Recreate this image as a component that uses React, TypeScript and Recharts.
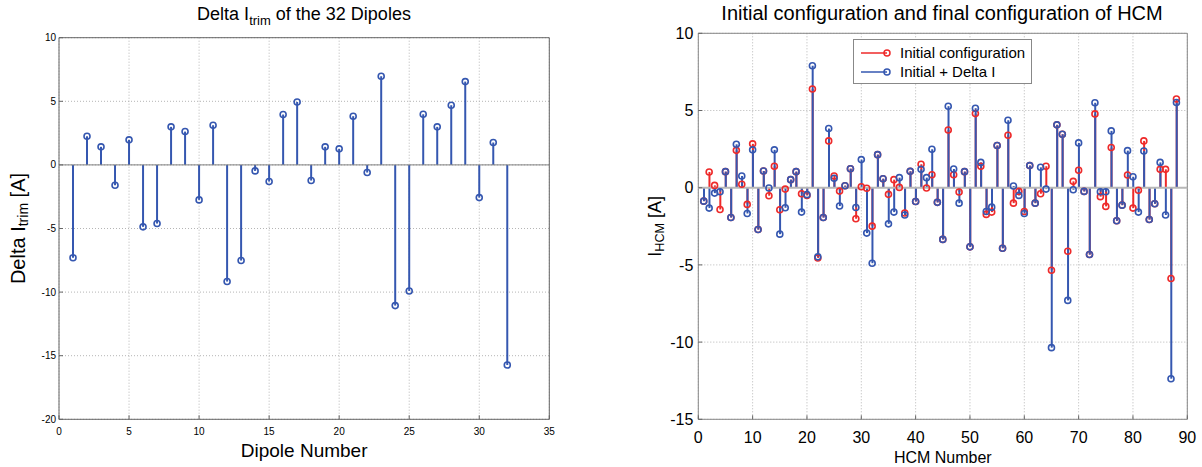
import {
  ComposedChart,
  Bar,
  Scatter,
  XAxis,
  YAxis,
  CartesianGrid,
  ReferenceLine,
  ReferenceArea,
} from "recharts"

// left plot: trim current per dipole
const deltaTrim = [
  -7.3, 2.25, 1.42, -1.6, 1.97, -4.87, -4.61, 2.99, 2.62, -2.75, 3.12, -9.17,
  -7.52, -0.47, -1.31, 3.96, 4.95, -1.23, 1.42, 1.26, 3.83, -0.6, 6.97, -11.06,
  -9.91, 3.98, 2.99, 4.69, 6.55, -2.57, 1.76, -15.73,
]

// right plot: HCM currents, initial (red) and initial + delta (blue)
const hcmInitial = [
  -0.87, 1.02, 0.15, -1.41, 1.04, -1.93, 2.42, 0.22, -1.08, 2.84, -2.71, 1.08,
  -0.52, 1.39, -1.43, -0.09, 0.52, 1.04, -0.39, -0.5, 6.39, -4.55, -1.93, 3.03,
  0.76, -0.22, 0.13, 1.23, -2.01, 0.06, -0.04, -2.49, 2.14, 0.58, -0.43, 0.52,
  0.02, -1.64, 1.06, -0.89, 1.52, -0.02, 0.84, -0.95, -3.35, 3.74, 0.84, -0.28,
  1.04, -3.83, 4.8, 1.39, -1.73, -1.58, 2.73, -3.92, 3.4, -1.0, -0.24, -1.54,
  1.43, -1.0, -0.39, 1.39, -5.35, 4.07, 3.46, -4.12, 0.41, 1.13, -0.24, -4.33,
  4.78, -0.58, -1.21, 2.6, -2.14, -1.13, 0.82, -1.32, -0.17, 3.03, -2.06, -1.04,
  1.19, 1.19, -5.88, 5.74,
]

const hcmFinal = [
  -0.87, -1.32, -0.35, -0.26, 1.04, -1.93, 2.81, 0.76, -1.67, 2.45, -2.71, 1.08,
  -0.02, 2.45, -3.01, -1.3, 0.52, 1.04, -1.58, -0.45, 7.9, -4.48, -1.93, 3.83,
  0.61, -1.19, 0.13, 1.23, -1.28, 1.82, -2.94, -4.89, 2.14, 0.58, -2.34, -1.58,
  0.65, -1.77, 1.06, -0.89, 1.19, 0.65, 2.49, -0.95, -3.35, 5.28, 1.21, -1.0,
  1.04, -3.83, 5.15, 1.64, -1.54, -1.26, 2.73, -3.92, 4.37, 0.11, -0.5, -1.67,
  1.43, -1.0, 1.32, -0.09, -10.36, 4.07, 3.46, -7.3, -0.13, 2.9, -0.24, -4.33,
  5.5, -0.26, -0.26, 3.68, -2.14, -1.13, 2.4, 0.71, -1.58, 2.38, -2.06, -1.04,
  1.64, -1.77, -12.37, 5.52,
]

const leftXTicks = [0, 5, 10, 15, 20, 25, 30, 35]
const leftYTicks = [-20, -15, -10, -5, 0, 5, 10]
const rightXTicks = [0, 10, 20, 30, 40, 50, 60, 70, 80, 90]
const rightYTicks = [-15, -10, -5, 0, 5, 10]
const legendNames = ["Initial configuration", "Initial + Delta I"]

const BLUE = "#3557b0"
const RED = "#ee2a2a"
const FONT = "'Liberation Sans', Arial, sans-serif"

const dipoleData = deltaTrim.map((v, i) => ({ n: i + 1, v }))
const hcmData = hcmFinal.map((b, i) => ({ n: i + 1, final: b, initial: hcmInitial[i] }))

const stem = (color: string) => (p: any) => {
  if (p.x == null) return <g />
  const cx = p.x + p.width / 2
  return <line x1={cx} x2={cx} y1={p.y} y2={p.y + p.height} stroke={color} strokeWidth={2} />
}

const ring = (color: string) => (p: any) => (
  <circle cx={p.cx} cy={p.cy} r={3} fill="#fff" fillOpacity={0} stroke={color} strokeWidth={1.6} />
)

const SideLabel = (main: string, sub: string, size: number, dx: number) => ({ viewBox }: any) => {
  const cx = viewBox.x + dx
  const cy = viewBox.y + viewBox.height / 2
  return (
    <text
      x={cx}
      y={cy}
      transform={`rotate(-90, ${cx}, ${cy})`}
      textAnchor="middle"
      dominantBaseline="central"
      fontSize={size}
      fontFamily={FONT}
      fill="#000"
    >
      <tspan>{main}</tspan>
      <tspan fontSize={size * 0.7} dy={5}>{sub}</tspan>
      <tspan dy={-5}> [A]</tspan>
    </text>
  )
}

const BottomLabel = (text: string, size: number, dy: number) => ({ viewBox }: any) => (
  <text
    x={viewBox.x + viewBox.width / 2}
    y={viewBox.y + dy}
    textAnchor="middle"
    dominantBaseline="central"
    fontSize={size}
    fontFamily={FONT}
    fill="#000"
  >
    {text}
  </text>
)

function HcmLegend() {
  const colors = [RED, BLUE]
  return (
    <div
      style={{
        position: "absolute",
        left: 853,
        top: 39,
        width: 179,
        height: 45,
        border: "1px solid #888",
        background: "#fff",
        fontFamily: FONT,
        fontSize: 15,
        padding: "3px 0 0 7px",
        boxSizing: "border-box",
      }}
    >
      {legendNames.map((name, i) => (
        <div key={name} style={{ display: "flex", alignItems: "center", height: 19 }}>
          <svg width={32} height={12} style={{ marginRight: 7 }}>
            <line x1={0} x2={26} y1={6} y2={6} stroke={colors[i]} strokeWidth={1.5} />
            <circle cx={26} cy={6} r={3} fill="none" stroke={colors[i]} strokeWidth={1.5} />
          </svg>
          <span>{name}</span>
        </div>
      ))}
    </div>
  )
}

export default function App() {
  const title = (left: number, top: number, size: number): React.CSSProperties => ({
    position: "absolute",
    left,
    top,
    fontFamily: FONT,
    fontSize: size,
    color: "#000",
    whiteSpace: "nowrap",
    transform: "translateX(-50%)",
  })

  return (
    <div style={{ position: "absolute", left: 0, top: 0, width: 1202, height: 467, background: "#fff" }}>
      <div style={{ position: "absolute", left: 0, top: 0 }}>
        <ComposedChart
          width={560}
          height={467}
          data={dipoleData}
          margin={{ top: 37.7, right: 10.7, bottom: 17.7, left: 0 }}
        >
          <CartesianGrid stroke="#b5b5b5" strokeDasharray="1 2" />
          <XAxis
            dataKey="n"
            type="number"
            domain={[0, 35]}
            ticks={leftXTicks}
            interval={0}
            height={30}
            axisLine={false}
            tickSize={-4}
            tickMargin={13}
            tickLine={{ stroke: "#666" }}
            tick={{ fontSize: 10, fill: "#000", fontFamily: FONT }}
            label={{ content: BottomLabel("Dipole Number", 19, 31) }}
          />
          <YAxis
            type="number"
            domain={[-20, 10]}
            ticks={leftYTicks}
            interval={0}
            width={59}
            axisLine={false}
            tickSize={-4}
            tickMargin={7}
            tickLine={{ stroke: "#666" }}
            tick={{ fontSize: 10, fill: "#000", fontFamily: FONT }}
            label={{ content: SideLabel("Delta I", "trim", 20, 18) }}
          />
          <ReferenceLine y={0} stroke="#808080" strokeWidth={1} />
          <Bar dataKey="v" barSize={2} shape={stem(BLUE)} isAnimationActive={false} />
          <Scatter dataKey="v" shape={ring(BLUE)} isAnimationActive={false} />
          <ReferenceArea x1={0} x2={35} y1={-20} y2={10} fill="none" stroke="#666" strokeWidth={1} />
        </ComposedChart>
      </div>

      <div style={{ position: "absolute", left: 600, top: 0 }}>
        <ComposedChart
          width={602}
          height={467}
          data={hcmData}
          margin={{ top: 33.3, right: 14.7, bottom: 17.7, left: 40.3 }}
        >
          <CartesianGrid stroke="#b5b5b5" strokeDasharray="1 2" />
          <XAxis
            dataKey="n"
            type="number"
            domain={[0, 90]}
            ticks={rightXTicks}
            interval={0}
            height={30}
            axisLine={false}
            tickSize={-4}
            tickMargin={16}
            tickLine={{ stroke: "#666" }}
            tick={{ fontSize: 16, fill: "#000", fontFamily: FONT }}
            label={{ content: BottomLabel("HCM Number", 16, 38) }}
          />
          <XAxis xAxisId="init" dataKey="n" type="number" domain={[0, 90]} hide />
          <YAxis
            type="number"
            domain={[-15, 10]}
            ticks={rightYTicks}
            interval={0}
            width={58}
            axisLine={false}
            tickSize={-4}
            tickMargin={9}
            tickLine={{ stroke: "#666" }}
            tick={{ fontSize: 16, fill: "#000", fontFamily: FONT }}
            label={{ content: SideLabel("I", "HCM", 18, 15) }}
          />
          <ReferenceLine y={0} stroke="#b8b8b8" strokeWidth={2} />
          <Bar xAxisId="init" dataKey="initial" barSize={2} shape={stem(RED)} isAnimationActive={false} />
          <Scatter xAxisId="init" dataKey="initial" shape={ring(RED)} isAnimationActive={false} />
          <Bar dataKey="final" barSize={2} shape={stem(BLUE)} isAnimationActive={false} />
          <Scatter dataKey="final" shape={ring(BLUE)} isAnimationActive={false} />
          <ReferenceArea x1={0} x2={90} y1={-15} y2={10} fill="none" stroke="#888" strokeWidth={1} />
        </ComposedChart>
      </div>

      <div style={title(304, 4, 18)}>
        Delta I<sub style={{ fontSize: 13 }}>trim</sub> of the 32 Dipoles
      </div>
      <div style={title(942, 2, 20)}>Initial configuration and final configuration of HCM</div>
      <HcmLegend />
    </div>
  )
}
